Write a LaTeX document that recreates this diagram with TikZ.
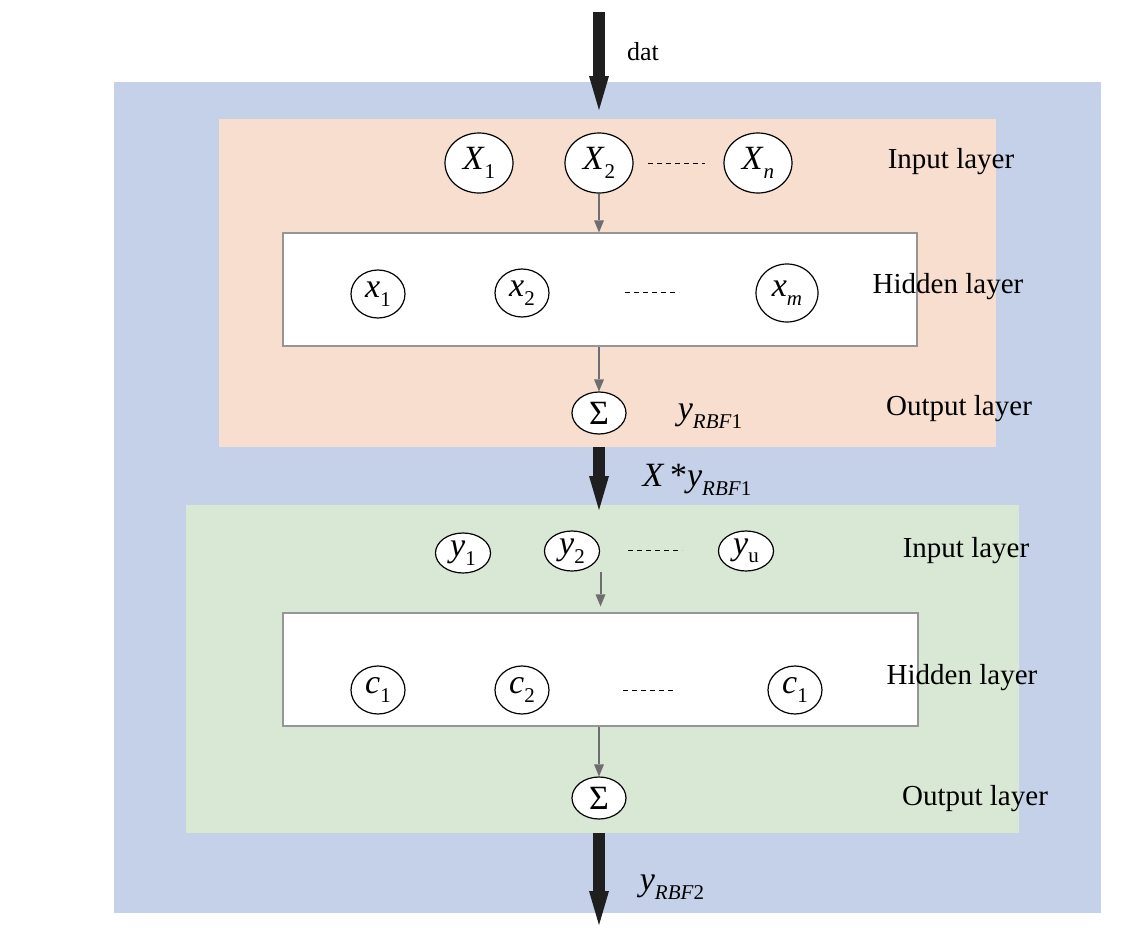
\documentclass[tikz,border=0pt]{standalone}
\usepackage{fontspec}
\setmainfont{Liberation Serif}
\usetikzlibrary{shapes.geometric,arrows.meta}
\definecolor{bgblue}{RGB}{197,208,233}
\definecolor{rbforange}{RGB}{248,222,207}
\definecolor{rbfgreen}{RGB}{217,231,213}
\definecolor{boxgray}{RGB}{150,150,150}
\definecolor{arrgray}{RGB}{110,110,112}
\newcommand{\lowidx}[1]{\raisebox{-0.55ex}{\fontsize{10.5}{11}\selectfont #1}}
\begin{document}
\begin{tikzpicture}[x=0.5pt,y=-0.5pt,
 unit node/.style={ellipse,draw,fill=white,line width=0.6pt,inner sep=0pt,font=\fontsize{17}{17}\selectfont},
 layer label/.style={font=\fontsize{14.5}{17}\selectfont},
 big arrow/.style={line width=6pt,black!88,-{Triangle[length=17pt,width=10pt,line width=0pt]}},
 small arrow/.style={line width=1pt,arrgray,-{Triangle[length=6pt,width=5pt,line width=0pt]}},
 dots/.style={dash pattern=on 2.5pt off 2pt,line width=0.5pt}]
\useasboundingbox (0,0) rectangle (1141,937);
% backgrounds
\node[fill=bgblue,minimum width=493.5pt,minimum height=415.5pt,inner sep=0pt] (frame) at (607.5,497.5) {};
\node[fill=rbforange,minimum width=388.5pt,minimum height=164pt,inner sep=0pt] (rbf1) at (607.5,283) {};
\node[fill=rbfgreen,minimum width=416.5pt,minimum height=164pt,inner sep=0pt] (rbf2) at (602.5,669) {};
\node[draw=boxgray,fill=white,line width=0.6pt,minimum width=317pt,minimum height=56.5pt,inner sep=0pt] (hid1) at (600,289.5) {};
\node[draw=boxgray,fill=white,line width=0.6pt,minimum width=317.5pt,minimum height=56.5pt,inner sep=0pt] (hid2) at (600.5,669.5) {};
% first network
\node[unit node,minimum width=34pt,minimum height=30pt] (X1) at (479,163) {\textit{X}\lowidx{1}};
\node[unit node,minimum width=34pt,minimum height=30pt] (X2) at (599,163) {\textit{X}\lowidx{2}};
\node[unit node,minimum width=34pt,minimum height=30pt] (Xn) at (758,163) {\textit{X}\lowidx{\textit{n}}};
\node[unit node,minimum width=27pt,minimum height=24pt] (x1) at (378,294) {\textit{x}\lowidx{1}};
\node[unit node,minimum width=27pt,minimum height=24pt] (x2) at (522,293) {\textit{x}\lowidx{2}};
\node[unit node,minimum width=31pt,minimum height=29pt] (xm) at (787,293) {\textit{x}\lowidx{\textit{m}}};
\node[unit node,minimum width=27pt,minimum height=21pt] (sum1) at (599,413) {Σ};
\draw[dots] (648,163) coordinate (d1a) -- (705,163) coordinate (d1b);
\draw[dots] (625,292) coordinate (d2a) -- (679,292) coordinate (d2b);
\draw[small arrow] (X2) edge (hid1.north -| X2);
\draw[small arrow] (sum1 |- hid1.south) -- (sum1.north);
% second network
\node[unit node,minimum width=27.5pt,minimum height=20pt] (y1) at (463,553) {\textit{y}\lowidx{1}};
\node[unit node,minimum width=27.5pt,minimum height=20pt] (y2) at (572,551) {\textit{y}\lowidx{2}};
\node[unit node,minimum width=27.5pt,minimum height=20pt] (yu) at (746,551) {\textit{y}\lowidx{u}};
\node[unit node,minimum width=27pt,minimum height=24pt] (c1) at (378,690) {\textit{c}\lowidx{1}};
\node[unit node,minimum width=27pt,minimum height=24pt] (c2) at (522,690) {\textit{c}\lowidx{2}};
\node[unit node,minimum width=27pt,minimum height=24pt] (cl) at (795,690) {\textit{c}\lowidx{1}};
\node[unit node,minimum width=27pt,minimum height=21pt] (sum2) at (599,798) {Σ};
\draw[dots] (628,550) coordinate (d3a) -- (682,550) coordinate (d3b);
\draw[dots] (623,690) coordinate (d4a) -- (676,690) coordinate (d4b);
\draw[small arrow,shorten >=3pt] (y2.south -| hid2.north) -- (hid2.north);
\draw[small arrow] (sum2 |- hid2.south) -- (sum2.north);
% data flow
\coordinate (datin) at (599,12);
\coordinate (datout) at (599,110);
\coordinate (midend) at (599,510);
\coordinate (outend) at (599,925);
\draw[big arrow] (datin) -- (datout);
\draw[big arrow] (sum1 |- rbf1.south) -- (midend);
\draw[big arrow] (sum2 |- rbf2.south) -- (outend);
\node[font=\fontsize{13}{15}\selectfont] (dat) at (643,52) {dat};
\node[font=\fontsize{17}{17}\selectfont] (yrbf1) at (710,416) {\textit{y}\lowidx{\textit{RBF}1}};
\node[font=\fontsize{17}{17}\selectfont] (xyrbf) at (697,480) {\textit{X}\,*\textit{y}\lowidx{\textit{RBF}1}};
\node[font=\fontsize{17}{17}\selectfont] (yrbf2) at (672,887) {\textit{y}\lowidx{\textit{RBF}2}};
% layer names
\node[layer label] (in1) at (951,162) {Input layer};
\node[layer label] (hl1) at (948,287) {Hidden layer};
\node[layer label] (out1) at (959,409) {Output layer};
\node[layer label] (in2) at (966,551) {Input layer};
\node[layer label] (hl2) at (962,678) {Hidden layer};
\node[layer label] (out2) at (975,799) {Output layer};
\end{tikzpicture}
\end{document}
